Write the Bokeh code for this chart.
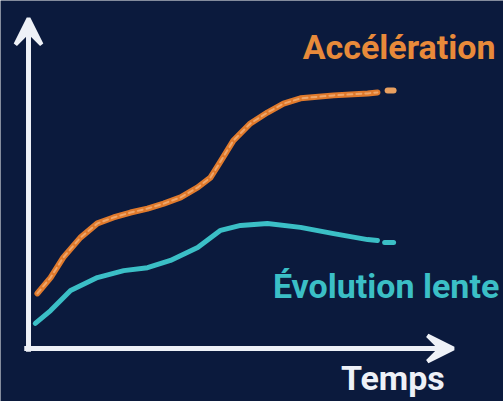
from bokeh.plotting import figure
from bokeh.models import Range1d, Arrow, VeeHead
from bokeh.core.properties import value
from bokeh.embed import file_html
from bokeh.resources import INLINE

# Data (time units vs. abstract level)
acc_t = [0.21, 0.52, 0.82, 1.22, 1.62, 2.0, 2.4, 2.8, 3.18, 3.58, 3.98, 4.28,
         4.52, 4.82, 5.22, 5.62, 6.0, 6.4, 7.18, 7.98, 8.21]
acc_v = [1.67, 2.15, 2.76, 3.36, 3.79, 3.97, 4.12, 4.24, 4.39, 4.58, 4.88, 5.18,
         5.67, 6.30, 6.82, 7.15, 7.42, 7.58, 7.67, 7.73, 7.76]
acc_tail_t = [8.45, 8.59]
acc_tail_v = [7.82, 7.82]

slow_t = [0.16, 0.52, 0.99, 1.62, 2.24, 2.8, 3.34, 3.98, 4.52, 4.99, 5.62, 6.4,
          7.18, 7.98, 8.21]
slow_v = [0.76, 1.15, 1.76, 2.15, 2.36, 2.45, 2.67, 3.06, 3.58, 3.73, 3.79, 3.67,
          3.48, 3.30, 3.27]
slow_tail_t = [8.38, 8.59]
slow_tail_v = [3.21, 3.21]

labels = ["Accélération", "Évolution lente", "Temps"]

BG = "#0b1a3d"
ORANGE = "#e07a2c"
CYAN = "#3bbfc6"
WHITE = "#eef1f7"

p = figure(width=503, height=401, output_backend="svg", toolbar_location=None,
           x_range=Range1d(-0.659, 11.176), y_range=Range1d(-1.606, 10.545),
           min_border=0, border_fill_color=BG, background_fill_color=BG,
           outline_line_color=None)
p.axis.visible = False
p.grid.visible = False

# Axes with arrows
p.add_layout(Arrow(x_start=-0.1, y_start=0, x_end=10.0, y_end=0,
                   line_color=WHITE, line_width=5,
                   end=VeeHead(size=26, line_color=WHITE, line_width=4,
                               fill_color=WHITE)))
p.add_layout(Arrow(x_start=0, y_start=-0.1, x_end=0, y_end=10.0,
                   line_color=WHITE, line_width=5,
                   end=VeeHead(size=26, line_color=WHITE, line_width=4,
                               fill_color=WHITE)))

# Acceleration curve
p.line(acc_t, acc_v, line_color=ORANGE, line_width=6, line_cap="round",
       line_join="round")
p.line(acc_t, acc_v, line_color="#f3b27a", line_width=2, line_dash="5 4",
       line_cap="round", line_join="round", line_alpha=0.8)
p.line(acc_tail_t, acc_tail_v, line_color="#e9a060", line_width=6,
       line_cap="round")

# Slow evolution curve
p.line(slow_t, slow_v, line_color=CYAN, line_width=5, line_cap="round",
       line_join="round")
p.line(slow_tail_t, slow_tail_v, line_color=CYAN, line_width=5,
       line_cap="round")

# Labels
p.text(x=[6.45], y=[9.15], text=[labels[0]], text_color="#e88a3a",
       text_font=value("Roboto"), text_font_style="bold",
       text_font_size="34px", text_baseline="middle", text_align="left")
p.text(x=[5.75], y=[1.9], text=[labels[1]], text_color=CYAN,
       text_font=value("Roboto"), text_font_style="bold",
       text_font_size="34px", text_baseline="middle", text_align="left")
p.text(x=[7.35], y=[-0.9], text=[labels[2]], text_color=WHITE,
       text_font=value("Roboto"), text_font_style="bold",
       text_font_size="34px", text_baseline="middle", text_align="left")

open("out.html", "w").write(file_html(p, INLINE))
